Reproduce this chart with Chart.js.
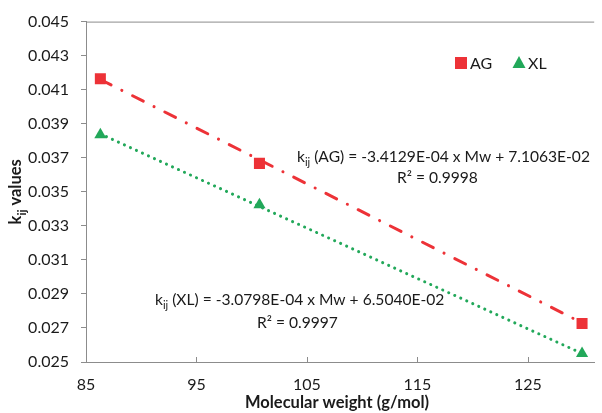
<!DOCTYPE html>
<html>
<head>
<meta charset="utf-8">
<script src="https://cdn.jsdelivr.net/npm/chart.js@4"></script>
<style>
  html, body { margin: 0; padding: 0; background: #fff; }
  #wrap { width: 602px; height: 413px; }
</style>
</head>
<body>
<div id="wrap"><canvas id="kij"></canvas></div>
<script>
// data
const mw = [86.3, 100.7, 129.9];
const kijAG = [0.04164, 0.03667, 0.02726];
const kijXL = [0.03835, 0.03424, 0.0255];

// trendline ends
const trendMw = [86.3, 129.9];
const trendAG = [0.0416, 0.0273];
const trendXL = [0.0384, 0.0255];

const xTicks = [85, 95, 105, 115, 125];
const seriesNames = ['AG', 'XL'];
const eqAG = [' (AG) = -3.4129E-04 x Mw + 7.1063E-02', 'R² = 0.9998'];
const eqXL = [' (XL) = -3.0798E-04 x Mw + 6.5040E-02', 'R² = 0.9997'];

const red = '#ED3237';
const green = '#22A85A';
const axisGrey = '#8c8c8c';
const FONT = 'Lato, "Open Sans", sans-serif';

const pts = (xs, ys) => xs.map((x, i) => ({ x: x, y: ys[i] }));

// k with subscript ij, followed by rest
function drawKij(ctx, rest, x, y, size, bold) {
    const w = bold ? 'bold ' : '';
    ctx.font = w + size + 'px ' + FONT;
    ctx.fillText('k', x, y);
    let cx = x + ctx.measureText('k').width;
    ctx.font = w + Math.round(size * 0.72) + 'px ' + FONT;
    ctx.fillText('ij', cx, y + size * 0.28);
    cx += ctx.measureText('ij').width;
    ctx.font = w + size + 'px ' + FONT;
    ctx.fillText(rest, cx, y);
}

const extras = {
    id: 'extras',
    afterDraw(chart) {
        const ctx = chart.ctx;
        const a = chart.chartArea;
        const xs = chart.scales.x;
        ctx.save();
        // top border + inner x ticks
        ctx.strokeStyle = axisGrey;
        ctx.lineWidth = 1;
        ctx.beginPath();
        ctx.moveTo(a.left, a.top + 0.5);
        ctx.lineTo(a.right, a.top + 0.5);
        xs.ticks.forEach(t => {
            const px = Math.round(xs.getPixelForValue(t.value)) + 0.5;
            ctx.moveTo(px, a.bottom);
            ctx.lineTo(px, a.bottom - 5);
        });
        ctx.stroke();

        ctx.fillStyle = '#1a1a1a';
        ctx.textBaseline = 'alphabetic';
        ctx.textAlign = 'left';

        // equations
        drawKij(ctx, eqAG[0], 297, 162, 15.6, false);
        ctx.font = '15.6px ' + FONT;
        ctx.fillText(eqAG[1], 397, 183);
        drawKij(ctx, eqXL[0], 155, 305, 15.6, false);
        ctx.font = '15.6px ' + FONT;
        ctx.fillText(eqXL[1], 257, 328);

        // legend
        const ds = chart.data.datasets;
        ctx.fillStyle = ds[0].backgroundColor;
        ctx.fillRect(455, 57, 12, 12);
        ctx.fillStyle = '#1a1a1a';
        ctx.font = '16px ' + FONT;
        ctx.fillText(seriesNames[0], 470, 69);
        ctx.fillStyle = ds[1].backgroundColor;
        ctx.beginPath();
        ctx.moveTo(519, 56);
        ctx.lineTo(525.5, 68);
        ctx.lineTo(512.5, 68);
        ctx.closePath();
        ctx.fill();
        ctx.fillStyle = '#1a1a1a';
        ctx.fillText(seriesNames[1], 528, 69);

        // axis titles
        ctx.font = 'bold 16.5px ' + FONT;
        ctx.textAlign = 'center';
        ctx.fillText('Molecular weight (g/mol)', 337, 408);

        ctx.save();
        ctx.translate(21, (a.top + a.bottom) / 2);
        ctx.rotate(-Math.PI / 2);
        ctx.textAlign = 'left';
        ctx.font = 'bold 16.5px ' + FONT;
        let tw = ctx.measureText('k values').width;
        ctx.font = 'bold 12px ' + FONT;
        tw += ctx.measureText('ij').width;
        drawKij(ctx, ' values', -tw / 2, 0, 16.5, true);
        ctx.restore();
        ctx.restore();
    }
};

const chart = new Chart(document.getElementById('kij'), {
    type: 'scatter',
    data: {
        datasets: [
            {
                label: seriesNames[0],
                data: pts(mw, kijAG),
                pointStyle: 'rect',
                pointRadius: 7.8,
                backgroundColor: red,
                borderColor: red,
                borderWidth: 0,
                order: 0
            },
            {
                label: seriesNames[1],
                data: pts(mw, kijXL),
                pointStyle: 'triangle',
                pointRadius: 7,
                backgroundColor: green,
                borderColor: green,
                borderWidth: 0,
                order: 0
            },
            {
                label: 'AG trend',
                data: pts(trendMw, trendAG),
                showLine: true,
                pointRadius: 0,
                borderColor: red,
                borderWidth: 3,
                borderDash: [12, 12, 0.1, 12],
                borderCapStyle: 'round',
                order: 1
            },
            {
                label: 'XL trend',
                data: pts(trendMw, trendXL),
                showLine: true,
                pointRadius: 0,
                borderColor: green,
                borderWidth: 3,
                borderDash: [0.1, 6.5],
                borderCapStyle: 'round',
                order: 1
            }
        ]
    },
    options: {
        responsive: true,
        maintainAspectRatio: false,
        animation: false,
        layout: {
            padding: { top: 17, left: 0, right: 0, bottom: 0 }
        },
        scales: {
            x: {
                type: 'linear',
                min: 85,
                max: 131,
                afterFit: s => { s.height = 51; },
                afterBuildTicks: s => { s.ticks = xTicks.map(v => ({ value: v })); },
                grid: { display: false, drawTicks: false },
                border: { display: true, color: axisGrey, width: 1 },
                ticks: {
                    padding: 13,
                    color: '#1a1a1a',
                    font: { family: FONT, size: 16 }
                }
            },
            y: {
                min: 0.025,
                max: 0.045,
                afterFit: s => { s.width = 86; },
                grid: {
                    drawOnChartArea: false,
                    drawTicks: true,
                    tickLength: 5,
                    color: axisGrey
                },
                border: { display: true, color: axisGrey, width: 1 },
                ticks: {
                    stepSize: 0.002,
                    padding: 12,
                    color: '#1a1a1a',
                    font: { family: FONT, size: 16 },
                    callback: v => v.toFixed(3)
                }
            }
        },
        plugins: {
            legend: { display: false },
            tooltip: { enabled: false }
        }
    },
    plugins: [extras]
});
</script>
</body>
</html>
